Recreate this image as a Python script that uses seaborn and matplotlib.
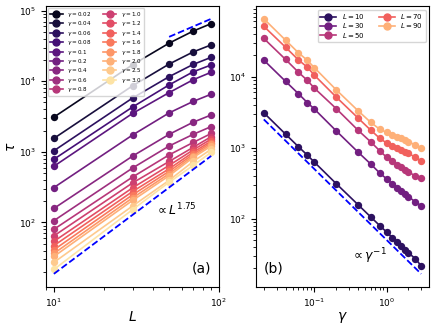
import numpy as np
import pandas as pd
import seaborn as sns
import matplotlib
matplotlib.use("Agg")
import matplotlib.pyplot as plt
from matplotlib.lines import Line2D

# system sizes and damping values
L_vals = [10, 30, 50, 70, 90]
gammas = [0.02, 0.04, 0.06, 0.08, 0.1, 0.2, 0.4, 0.6, 0.8, 1.0,
          1.2, 1.4, 1.6, 1.8, 2.0, 2.5, 3.0]

# relaxation time tau, one list per L (ordered like gammas)
tau_L10 = [3100, 1550, 1035, 785, 625, 312, 158, 106, 80, 64.6,
           54, 47, 41, 36.4, 33, 27.2, 21.6]
tau_L30 = [17100, 8600, 5780, 4310, 3500, 1730, 870, 590, 440, 363,
           309, 274, 246, 223, 205, 171, 152]
tau_L50 = [34600, 17500, 11600, 8870, 6900, 3560, 1770, 1210, 906, 731,
           643, 576, 530, 490, 459, 395, 371]
tau_L70 = [51300, 26000, 17300, 13600, 10500, 5180, 2630, 1770, 1360, 1160,
           1065, 986, 925, 876, 832, 731, 643]
tau_L90 = [65400, 32700, 21800, 17000, 13400, 6550, 3330, 2280, 1820, 1640,
           1520, 1420, 1350, 1280, 1210, 1090, 986]

# guide lines
L_exp = 1.75
L_pow_coef = 0.333
L_lin_coef = 850
L_lin_range = [50, 70, 90]
gamma_coef = 50

tau_all = [tau_L10, tau_L30, tau_L50, tau_L70, tau_L90]
rows = []
for L, taus in zip(L_vals, tau_all):
    for g, t in zip(gammas, taus):
        rows.append({"L": L, "gamma": g, "tau": t,
                     "glabel": rf"$\gamma={g}$", "Llabel": rf"$L={L}$"})
df = pd.DataFrame(rows)

g_labels = [rf"$\gamma={g}$" for g in gammas]
L_labels = [rf"$L={L}$" for L in L_vals]
g_pal = sns.color_palette("magma", len(gammas))
L_pal = sns.color_palette("magma", len(L_vals))

fig = plt.figure(figsize=(4.36, 3.27), dpi=100)
axA = fig.add_axes([0.1055, 0.1235, 0.397, 0.858])
axB = fig.add_axes([0.587, 0.1235, 0.397, 0.858])

line_kw = dict(marker="o", markersize=5.3, markeredgewidth=0, linewidth=1.2,
               errorbar=None, legend=False)

# (a) tau vs L
sns.lineplot(data=df, x="L", y="tau", hue="glabel", hue_order=g_labels,
             palette=g_pal, ax=axA, **line_kw)
L_arr = np.array(L_vals, dtype=float)
axA.plot(L_arr, L_pow_coef * L_arr ** L_exp, "--", color="blue", lw=1.3)
L_lin = np.array(L_lin_range, dtype=float)
axA.plot(L_lin, L_lin_coef * L_lin, "--", color="blue", lw=1.3)
axA.set_xscale("log")
axA.set_yscale("log")
axA.set_xlabel(r"$L$", fontsize=10, labelpad=1)
axA.set_ylabel(r"$\tau$", fontsize=10, labelpad=1)
axA.tick_params(labelsize=6.5)
handles = [Line2D([], [], color=c, marker="o", markersize=5, lw=1.2) for c in g_pal]
axA.legend(handles=handles, labels=g_labels, ncol=2, loc="upper left",
           fontsize=4.1, handlelength=2.3, labelspacing=0.08, borderpad=0.35,
           borderaxespad=0.3)
axA.text(0.75, 0.274, r"$\propto L^{1.75}$", transform=axA.transAxes,
         fontsize=9, ha="center", va="center")
axA.text(0.90, 0.064, "(a)", transform=axA.transAxes, fontsize=10,
         ha="center", va="center")

# (b) tau vs gamma
sns.lineplot(data=df, x="gamma", y="tau", hue="Llabel", hue_order=L_labels,
             palette=L_pal, ax=axB, **line_kw)
g_arr = np.array(gammas)
axB.plot(g_arr, gamma_coef / g_arr, "--", color="blue", lw=1.3)
axB.set_xscale("log")
axB.set_yscale("log")
axB.set_xlabel(r"$\gamma$", fontsize=10, labelpad=1)
axB.set_ylabel("")
axB.tick_params(labelsize=6.5)
handles = [Line2D([], [], color=c, marker="o", markersize=5, lw=1.2) for c in L_pal]
axB.legend(handles=handles, labels=L_labels, ncol=2, loc="upper right",
           fontsize=5, handlelength=2.3, labelspacing=0.05, borderpad=0.35)
axB.text(0.65, 0.107, r"$\propto \gamma^{-1}$", transform=axB.transAxes,
         fontsize=9, ha="center", va="center")
axB.text(0.10, 0.064, "(b)", transform=axB.transAxes, fontsize=10,
         ha="center", va="center")

fig.savefig("out.png", dpi=100)
